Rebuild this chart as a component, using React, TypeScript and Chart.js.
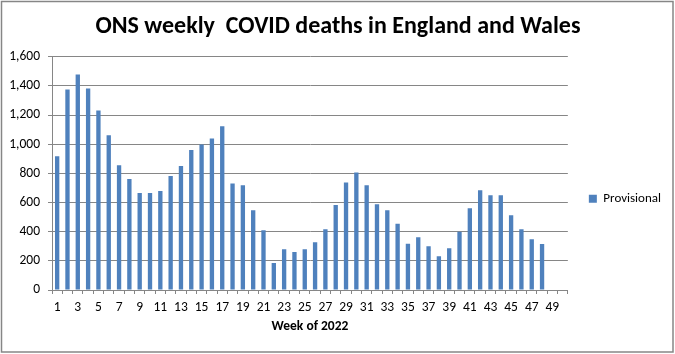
import React, { useEffect, useRef } from "react";
import { Chart, registerables } from "chart.js";

Chart.register(...registerables);

const weeks: string[] = Array.from({ length: 50 }, (_, i) => String(i + 1));
const provisional: number[] = [
  918, 1375, 1479, 1383, 1232, 1062, 856, 761, 665, 666,
  679, 782, 851, 960, 998, 1040, 1124, 730, 718, 547,
  410, 185, 280, 260, 280, 328, 417, 583, 738, 807,
  718, 588, 547, 454, 317, 362, 301, 232, 287, 400,
  561, 684, 650, 650, 513, 417, 349, 315,
];
const yTicks: number[] = [0, 200, 400, 600, 800, 1000, 1200, 1400, 1600];

const FONT = "Carlito, Lato, sans-serif";
const GRID = "#868686";

const borderPlugin = {
  id: "outerBorder",
  beforeDraw(chart: any) {
    const ctx = chart.ctx;
    ctx.save();
    ctx.fillStyle = "#ffffff";
    ctx.fillRect(0, 0, chart.width, chart.height);
    ctx.restore();
  },
  afterDraw(chart: any) {
    const ctx = chart.ctx;
    ctx.save();
    ctx.strokeStyle = GRID;
    ctx.lineWidth = 1.5;
    ctx.strokeRect(1.5, 1.5, 671.5, 350.5);
    ctx.restore();
  },
};

export default function App() {
  const ref = useRef<HTMLCanvasElement>(null);
  useEffect(() => {
    document.body.style.margin = "0";
    const chart = new Chart(ref.current!, {
      type: "bar",
      data: {
        labels: weeks,
        datasets: [
          {
            label: "Provisional",
            data: provisional,
            backgroundColor: "#4F81BD",
            borderWidth: 0,
            barPercentage: 0.42,
            categoryPercentage: 1,
          },
        ],
      },
      options: {
        responsive: false,
        animation: false,
        layout: { padding: { left: 5, right: 4, top: 0, bottom: 0 } },
        plugins: {
          tooltip: { enabled: false },
          title: {
            display: true,
            text: "ONS weekly  COVID deaths in England and Wales",
            color: "#000",
            font: { family: FONT, size: 24, weight: "bold" },
            padding: { top: 13, bottom: 15 },
          },
          legend: {
            position: "right",
            title: {
              display: true,
              text: "",
              font: { family: FONT, size: 12 },
              padding: { top: 14, bottom: 15 },
            },
            labels: {
              boxWidth: 8,
              boxHeight: 8,
              padding: 21,
              color: "#000",
              font: { family: FONT, size: 13 },
            },
          },
        },
        scales: {
          x: {
            afterFit(scale: any) {
              scale.height = 64;
            },
            grid: {
              drawOnChartArea: false,
              drawTicks: true,
              tickLength: 4,
              color: GRID,
              offset: true,
            },
            border: { display: true, color: GRID },
            ticks: {
              autoSkip: false,
              maxRotation: 0,
              minRotation: 0,
              padding: 6,
              color: "#000",
              font: { family: FONT, size: 13.5 },
              callback: (_v: any, i: number) => (i % 2 === 0 ? weeks[i] : ""),
            },
            title: {
              display: true,
              text: "Week of 2022",
              color: "#000",
              font: { family: FONT, size: 13.5, weight: "bold" },
              padding: { top: 0, bottom: 19 },
            },
          },
          y: {
            min: 0,
            max: 1600,
            afterFit(scale: any) {
              scale.width = 47;
            },
            afterBuildTicks(scale: any) {
              scale.ticks = yTicks.map((v) => ({ value: v }));
            },
            grid: { color: GRID, tickLength: 4, drawTicks: true },
            border: { display: true, color: GRID },
            ticks: {
              padding: 8,
              color: "#000",
              font: { family: FONT, size: 13.5 },
              callback: (v: any) => Number(v).toLocaleString("en-US"),
            },
          },
        },
      },
      plugins: [borderPlugin],
    });
    return () => chart.destroy();
  }, []);
  return (
    <div style={{ position: "absolute", left: 0, top: 0, width: 675, height: 354 }}>
      <canvas ref={ref} width={675} height={354} />
    </div>
  );
}
